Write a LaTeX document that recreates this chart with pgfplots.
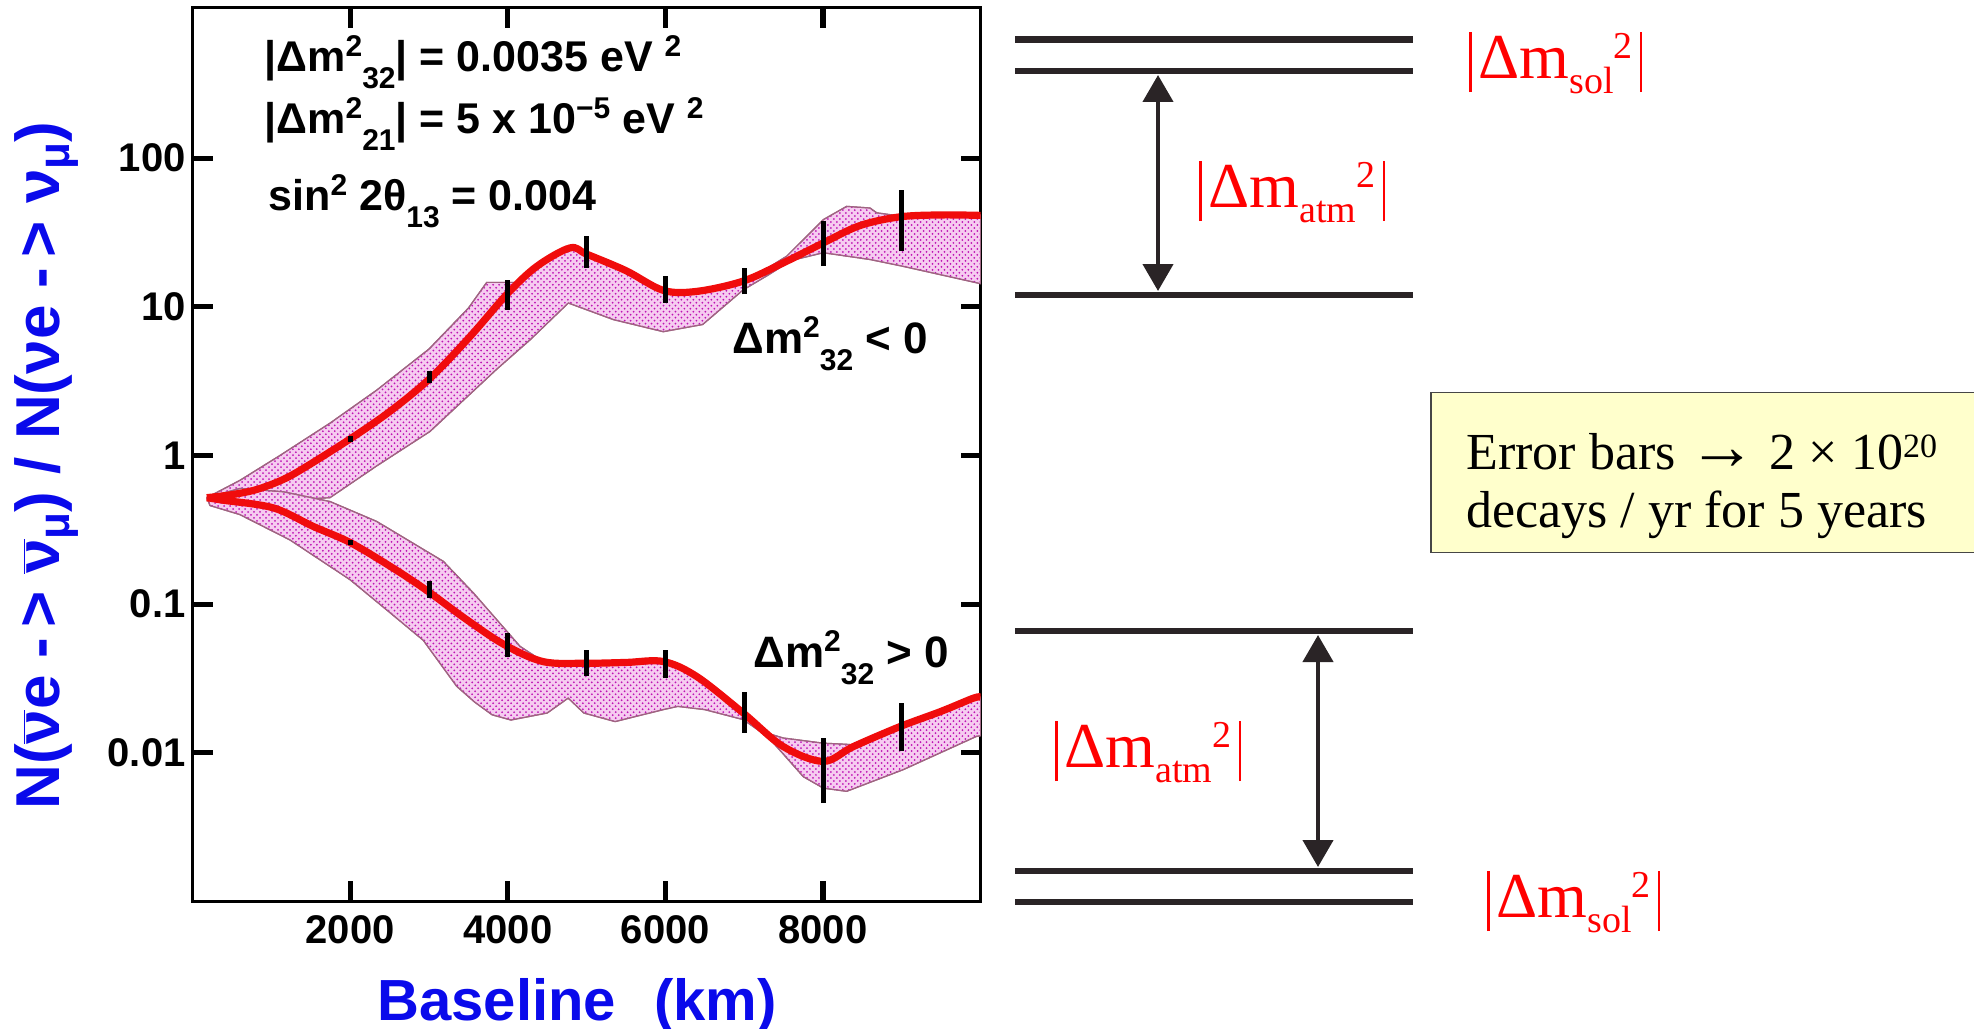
\documentclass[border=0pt]{standalone}
\usepackage{pgfplots}
\pgfplotsset{compat=1.18}
\usepackage{fontspec}
\setmainfont{Liberation Serif}
\setsansfont{Liberation Sans}
\usetikzlibrary{patterns,arrows.meta}

\definecolor{plotblue}{RGB}{10,10,235}
\definecolor{curvered}{RGB}{240,12,12}
\definecolor{bandfill}{RGB}{246,204,240}
\definecolor{banddot}{RGB}{190,20,180}
\definecolor{bandedge}{RGB}{160,100,130}
\definecolor{leveldark}{RGB}{42,36,38}
\definecolor{boxfill}{RGB}{255,255,204}
\definecolor{boxedge}{RGB}{70,70,70}
\definecolor{labelred}{RGB}{255,0,0}

\newcommand\pfont[1]{\sffamily\bfseries\fontsize{#1}{#1}\selectfont}
\newcommand\asup[1]{\raisebox{7.5bp}{\fontsize{15bp}{15bp}\selectfont #1}}
\newcommand\asub[1]{\raisebox{-8.5bp}{\fontsize{15bp}{15bp}\selectfont #1}}
\newcommand\bsup[1]{\raisebox{8bp}{\fontsize{15bp}{15bp}\selectfont #1}}
\newcommand\bsub[1]{\raisebox{-8.5bp}{\fontsize{15bp}{15bp}\selectfont #1}}
\newcommand\nub{\ensuremath{\overline{\mbox{ν}}}}
\newcommand\subm{\raisebox{-5bp}{\fontsize{22bp}{22bp}\selectfont μ}}
\newcommand\vbar{\rule[-7bp]{1.1bp}{30bp}}
\newcommand\dmsq[1]{\vbar\hspace{3.5bp}Δm\raisebox{-7.5bp}{\fontsize{19bp}{19bp}\selectfont #1}\raisebox{10bp}{\fontsize{19bp}{19bp}\selectfont 2}\hspace{3.5bp}\vbar}

\pgfplotsset{
  errbar/.style={black, line width=2.5bp, line cap=butt, forget plot},
  band/.style={fill=bandfill, draw=bandedge, line width=0.6bp,
     postaction={pattern=crosshatch dots, pattern color=banddot}},
  redcurve/.style={curvered, line width=3.6bp, smooth, tension=0.55},
}

\begin{document}
\begin{tikzpicture}
\useasboundingbox (0,0) rectangle (987bp,514.5bp);

% ---------------- main plot ----------------
\begin{axis}[
  at={(96.3bp,63.8bp)}, anchor=south west,
  scale only axis, width=394bp, height=446.9bp,
  xmin=0, xmax=10000,
  ymode=log, ymin=0.001, ymax=1030,
  yminorticks=false,
  scaled x ticks=false,
  axis line style={line width=1.4bp, black},
  tick style={line width=2.6bp, black},
  major tick length=10bp,
  tick align=inside,
  xtick={2000,4000,6000,8000},
  xticklabels={2000,4000,6000,8000},
  ytick={0.01,0.1,1,10,100},
  yticklabels={0.01,0.1,1,10,100},
  /pgf/number format/assume math mode=true,
  xticklabel style={font=\pfont{20bp}, yshift=-3.5bp},
  yticklabel style={font=\pfont{20bp}},
  xlabel={Baseline\hspace{19bp}(km)},
  xlabel style={font=\pfont{29bp}, text=plotblue,
     at={(axis description cs:0.4878,-0.1327)}, anchor=base},
  ylabel={N(\nub e -\,> \nub\subm) / N(νe -\,> ν\subm)},
  ylabel style={font=\pfont{31bp}, text=plotblue,
     at={(axis description cs:-0.1683,0.4875)}, anchor=base},
]
% upper band (Delta m^2_32 < 0)
\addplot[band] coordinates {
 (180,0.52) (600,0.68) (1109,1.0) (1744,1.65) (2336,2.75) (3000,5.2)
 (3500,9.8) (3732,14.6) (4100,14.6) (4367,18.7) (4600,23) (4789,24.9)
 (5001,22.6) (5500,17.5) (5973,12.9) (6400,12.7) (6988,14.9) (7150,16.3)
 (7539,21.9) (8004,38.6) (8300,47.4) (8597,46.2) (8681,42.9) (8977,40.8)
 (9500,41.5) (10000,41.5)
 (10000,14.3) (9950,14.5) (9019,18.7) (8597,20.8) (8004,23.1) (7600,20.5)
 (7300,16.3) (6988,13.0) (6473,7.6) (5973,6.8) (5339,8.2) (4768,10.6)
 (4284,6.0) (3859,3.8) (3013,1.45) (2336,0.85) (1744,0.52) (1200,0.5)
 (600,0.5) (180,0.52)
};
% lower band (Delta m^2_32 > 0)
\addplot[band] coordinates {
 (180,0.52) (601,0.60) (1151,0.57) (1744,0.49) (2336,0.36) (3182,0.194)
 (3563,0.119) (4155,0.052) (4451,0.041) (5001,0.0402) (5500,0.0405)
 (5973,0.0411) (6397,0.0326) (6988,0.0185) (7300,0.0135) (7496,0.01257)
 (8004,0.0116) (8300,0.0114) (8450,0.0112) (8977,0.015) (9500,0.019)
 (9908,0.0233) (10000,0.0237)
 (10000,0.013) (9950,0.0129) (9019,0.0077) (8300,0.0055) (8004,0.00578)
 (7750,0.0069) (7496,0.0098) (7300,0.0128) (6988,0.0167) (6500,0.0195)
 (6157,0.0205) (5973,0.0195) (5362,0.0162) (4965,0.0185) (4766,0.0233)
 (4500,0.0185) (4040,0.0166) (3800,0.018) (3575,0.022) (3351,0.028)
 (2928,0.057) (2500,0.088) (1997,0.146) (1236,0.27) (600,0.40)
 (221,0.46) (180,0.52)
};
% central curves
\addplot[redcurve] coordinates {
 (180,0.52) (500,0.545) (813,0.59) (1151,0.69) (1448,0.845) (1997,1.29)
 (2505,1.98) (3013,3.3) (3520,6.3) (3986,12.1) (4367,18.7) (4789,24.9)
 (5001,22.6) (5500,17.5) (5973,12.9) (6400,12.7) (6988,14.9) (7500,19.8)
 (8004,26.9) (8469,35.2) (8977,40.3) (9500,41.5) (10000,41.2)
};
\addplot[redcurve] coordinates {
 (180,0.52) (386,0.50) (1024,0.444) (1532,0.333) (1997,0.26) (2505,0.18)
 (2949,0.126) (3478,0.0786) (3965,0.053) (4451,0.041) (4980,0.040)
 (5500,0.0405) (5973,0.0411) (6397,0.0326) (6988,0.0185) (7496,0.011)
 (8004,0.00875) (8384,0.011) (8977,0.015) (9500,0.019) (9908,0.0233)
 (10000,0.0237)
};
% error bars, upper curve
\addplot[errbar] coordinates {(2000,1.24) (2000,1.35)};
\addplot[errbar] coordinates {(3000,3.08) (3000,3.68)};
\addplot[errbar] coordinates {(4000,9.57) (4000,15.2)};
\addplot[errbar] coordinates {(5000,18.3) (5000,29.8)};
\addplot[errbar] coordinates {(6000,10.6) (6000,16.0)};
\addplot[errbar] coordinates {(7000,12.1) (7000,18.3)};
\addplot[errbar] coordinates {(8000,18.8) (8000,37.6)};
\addplot[errbar] coordinates {(9000,23.6) (9000,61.5)};
% error bars, lower curve
\addplot[errbar] coordinates {(2000,0.248) (2000,0.271)};
\addplot[errbar] coordinates {(3000,0.110) (3000,0.142)};
\addplot[errbar] coordinates {(4000,0.044) (4000,0.064)};
\addplot[errbar] coordinates {(5000,0.0326) (5000,0.0489)};
\addplot[errbar] coordinates {(6000,0.0318) (6000,0.0489)};
\addplot[errbar] coordinates {(7000,0.0136) (7000,0.0258)};
\addplot[errbar] coordinates {(8000,0.00459) (8000,0.01257)};
\addplot[errbar] coordinates {(9000,0.0102) (9000,0.0216)};
\end{axis}

% ---------------- overlay: annotations and level scheme ----------------
\begin{axis}[
  at={(0,0)}, anchor=south west,
  scale only axis, width=987bp, height=514.5bp,
  xmin=0, xmax=1974, ymin=0, ymax=1029, y dir=reverse,
  hide axis, clip=false,
]
% plot annotations
\node[anchor=base west, inner sep=0, font=\pfont{21.5bp}] at (axis cs:264,72)
  {|Δm\asup{2}\asub{32}| = 0.0035 eV \asup{2}};
\node[anchor=base west, inner sep=0, font=\pfont{21.5bp}] at (axis cs:264,133)
  {|Δm\asup{2}\asub{21}| = 5 x 10\asup{−5} eV \asup{2}};
\node[anchor=base west, inner sep=0, font=\pfont{21.5bp}] at (axis cs:268,210)
  {sin\asup{2} 2θ\asub{13} = 0.004};
\node[anchor=base west, inner sep=0, font=\pfont{22bp}] at (axis cs:732,353)
  {Δm\bsup{2}\bsub{32} < 0};
\node[anchor=base west, inner sep=0, font=\pfont{22bp}] at (axis cs:753,667)
  {Δm\bsup{2}\bsub{32} > 0};

% level lines
\addplot[leveldark, line width=3.4bp, line cap=butt] coordinates {(1015,39.3) (1413,39.3)};
\addplot[leveldark, line width=3.4bp, line cap=butt] coordinates {(1015,71) (1413,71)};
\addplot[leveldark, line width=3.4bp, line cap=butt] coordinates {(1015,295) (1413,295)};
\addplot[leveldark, line width=3.4bp, line cap=butt] coordinates {(1015,631) (1413,631)};
\addplot[leveldark, line width=3.4bp, line cap=butt] coordinates {(1015,871) (1413,871)};
\addplot[leveldark, line width=3.4bp, line cap=butt] coordinates {(1015,902) (1413,902)};
% arrows
\addplot[leveldark, line width=2.2bp,
  arrows={Triangle[length=13.5bp,width=15bp]-Triangle[length=13.5bp,width=15bp]}]
  coordinates {(1158,75) (1158,291)};
\addplot[leveldark, line width=2.2bp,
  arrows={Triangle[length=13.5bp,width=15bp]-Triangle[length=13.5bp,width=15bp]}]
  coordinates {(1318,635) (1318,867)};

% red labels
\node[anchor=base west, inner sep=0, text=labelred, font=\fontsize{32bp}{32bp}\selectfont]
  at (axis cs:1469,78) {\dmsq{sol}};
\node[anchor=base west, inner sep=0, text=labelred, font=\fontsize{32bp}{32bp}\selectfont]
  at (axis cs:1199,207) {\dmsq{atm}};
\node[anchor=base west, inner sep=0, text=labelred, font=\fontsize{32bp}{32bp}\selectfont]
  at (axis cs:1055,767) {\dmsq{atm}};
\node[anchor=base west, inner sep=0, text=labelred, font=\fontsize{32bp}{32bp}\selectfont]
  at (axis cs:1487,917) {\dmsq{sol}};

% note box
\node[draw=boxedge, line width=0.8bp, fill=boxfill, anchor=north west,
  minimum width=285bp, minimum height=80bp, inner sep=0] at (axis cs:1430,391.7) {};
\node[anchor=base west, inner sep=0, font=\fontsize{26bp}{26bp}\selectfont]
  at (axis cs:1466,469) {Error bars {\fontsize{34bp}{34bp}\selectfont →} 2 × 10\raisebox{6bp}{\fontsize{17bp}{17bp}\selectfont 20}};
\node[anchor=base west, inner sep=0, font=\fontsize{26bp}{26bp}\selectfont]
  at (axis cs:1466,527) {decays / yr for 5 years};
\end{axis}
\end{tikzpicture}
\end{document}
